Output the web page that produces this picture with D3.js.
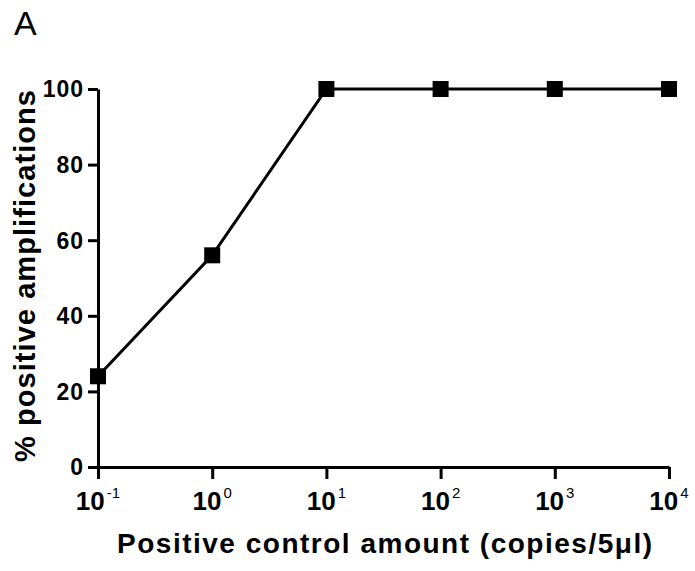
<!DOCTYPE html>
<html><head><meta charset="utf-8">
<script src="https://cdn.jsdelivr.net/npm/d3@7"></script>
<style>body{margin:0;background:#fff}text{font-family:Arial,"Liberation Sans",sans-serif}</style>
</head><body><svg id="c" width="695" height="571"></svg>
<script>
const xValues = [0.1, 1, 10, 100, 1000, 10000];
const yValues = [24, 56, 100, 100, 100, 100];
const xTickExps = [-1, 0, 1, 2, 3, 4];
const yTicks = [0, 20, 40, 60, 80, 100];

const svg = d3.select("#c");
const x = d3.scaleLog().domain([0.1, 10000]).range([98, 669]);
const y = d3.scaleLinear().domain([0, 100]).range([467, 89]);

const yAxis = svg.append("g").attr("transform","translate(98,0)")
  .call(d3.axisLeft(y).tickValues(yTicks).tickSize(10).tickSizeOuter(0).tickPadding(4));
yAxis.select(".domain").attr("stroke-width",3);
yAxis.selectAll(".tick line").attr("stroke-width",3);
yAxis.selectAll(".tick text").attr("font-size",23).attr("font-weight","bold").attr("fill","#000")
  .attr("letter-spacing",1).attr("dy","0.34em");

const xAxis = svg.append("g").attr("transform","translate(0,467)")
  .call(d3.axisBottom(x).tickValues(xTickExps.map(e=>Math.pow(10,e))).tickSize(12).tickSizeOuter(0).tickFormat(""));
xAxis.select(".domain").attr("stroke-width",3);
xAxis.selectAll(".tick line").attr("stroke-width",3);

const lbl = svg.append("g").selectAll("text").data(xTickExps).join("text")
  .attr("x", e=>x(Math.pow(10,e))).attr("y", 510)
  .attr("text-anchor","middle").attr("font-size",26).attr("font-weight","bold");
lbl.append("tspan").text("10");
lbl.append("tspan").attr("dy",-12).attr("dx",2).attr("font-size",15).attr("font-weight","normal").text(e=>String(e));

const line = d3.line().x((d,i)=>x(xValues[i])).y(d=>y(d));
svg.append("path").datum(yValues).attr("d",line).attr("fill","none").attr("stroke","#000").attr("stroke-width",3);
svg.append("g").selectAll("rect").data(yValues).join("rect")
  .attr("x",(d,i)=>x(xValues[i])-8).attr("y",d=>y(d)-8).attr("width",16).attr("height",16).attr("fill","#000");

svg.append("text").attr("x",117).attr("y",553)
  .attr("font-size",28).attr("font-weight","bold")
  .attr("textLength",535).attr("lengthAdjust","spacing")
  .text("Positive control amount (copies/5\u03bcl)");
svg.append("text").attr("transform","translate(35,462) rotate(-90)")
  .attr("font-size",29).attr("font-weight","bold")
  .attr("textLength",372).attr("lengthAdjust","spacing")
  .text("% positive amplifications");
svg.append("text").attr("x",14).attr("y",35).attr("font-size",34).text("A");
</script></body></html>
